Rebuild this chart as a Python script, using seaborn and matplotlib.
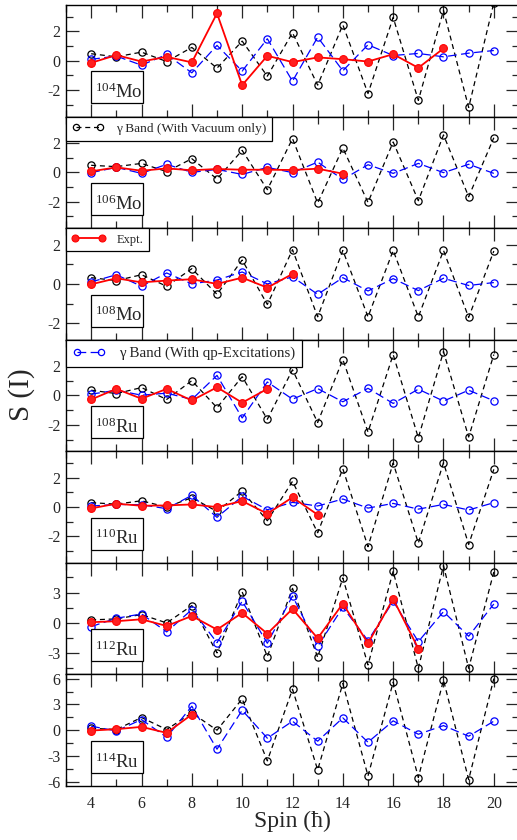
import numpy as np
import pandas as pd
import seaborn as sns
import matplotlib
matplotlib.use("Agg")
import matplotlib.pyplot as plt
from matplotlib.ticker import MultipleLocator
from matplotlib.lines import Line2D
from matplotlib.patches import Rectangle
import matplotlib.transforms as mtransforms

# ---------------- data ----------------
spin = list(range(4, 21))

nuclei = ["104Mo", "106Mo", "108Mo", "108Ru", "110Ru", "112Ru", "114Ru"]

mo104_vac = [0.48, 0.27, 0.59, -0.05, 0.91, -0.50, 1.34, -1.05, 1.91, -1.66, 2.45, -2.23, 2.95, -2.70, 3.43, -3.18, 3.95]
mo104_qp = [0.10, 0.32, -0.30, 0.43, -0.82, 1.05, -0.70, 1.50, -1.39, 1.61, -0.68, 1.09, 0.36, 0.50, 0.27, 0.52, 0.70]
mo104_exp = [-0.14, 0.39, -0.05, 0.27, -0.11, 3.23, -1.66, 0.34, -0.09, 0.23, 0.11, -0.05, 0.45, -0.48, 0.84]

mo106_vac = [0.48, 0.39, 0.61, 0.05, 0.93, -0.45, 1.50, -1.18, 2.30, -2.09, 1.66, -2.05, 2.07, -1.93, 2.55, -1.66, 2.36]
mo106_qp = [-0.02, 0.34, -0.07, 0.55, 0.00, 0.20, -0.14, 0.34, -0.02, 0.70, -0.48, 0.52, -0.07, 0.61, -0.02, 0.55, -0.07]
mo106_exp = [0.07, 0.34, 0.11, 0.27, 0.14, 0.23, 0.18, 0.18, 0.16, 0.25, -0.09]

mo108_vac = [0.32, 0.17, 0.47, -0.12, 0.78, -0.53, 1.22, -1.05, 1.75, -1.68, 1.71, -1.68, 1.71, -1.68, 1.71, -1.71, 1.68]
mo108_qp = [0.10, 0.47, -0.12, 0.56, 0.00, 0.20, 0.61, 0.00, 0.36, -0.53, 0.32, -0.36, 0.27, -0.34, 0.29, -0.08, 0.07]
mo108_exp = [-0.02, 0.29, 0.08, 0.17, 0.24, 0.00, 0.32, -0.19, 0.51]

ru108_vac = [0.36, 0.13, 0.54, -0.27, 1.01, -0.83, 1.28, -1.62, 1.75, -1.84, 2.45, -2.49, 2.79, -2.88, 2.99, -2.83, 2.79]
ru108_qp = [0.09, 0.36, 0.02, 0.16, -0.27, 1.37, -1.53, 0.92, -0.25, 0.47, -0.43, 0.49, -0.54, 0.43, -0.38, 0.36, -0.36]
ru108_exp = [-0.27, 0.45, -0.22, 0.45, -0.34, 0.56, -0.49, 0.45]

ru110_vac = [0.30, 0.20, 0.43, 0.00, 0.64, -0.30, 1.09, -0.93, 1.75, -1.75, 2.61, -2.70, 3.00, -2.45, 3.02, -2.55, 2.57]
ru110_qp = [0.07, 0.18, 0.16, -0.11, 0.80, -0.70, 0.73, -0.18, 0.32, 0.07, 0.55, -0.07, 0.25, -0.14, 0.18, -0.20, 0.30]
ru110_exp = [-0.09, 0.23, 0.09, 0.11, 0.18, 0.00, 0.41, -0.45, 0.66, -0.52]

ru112_vac = [0.30, 0.40, 0.83, 0.00, 1.72, -2.97, 3.07, -3.33, 3.43, -3.40, 4.46, -4.16, 5.12, -4.49, 5.68, -4.49, 5.05]
ru112_qp = [-0.36, 0.46, 0.89, -0.89, 1.32, -1.95, 2.15, -2.01, 2.67, -2.31, 1.55, -1.75, 2.15, -1.85, 1.12, -1.32, 1.88]
ru112_exp = [0.07, 0.17, 0.36, -0.30, 0.69, -0.66, 0.99, -1.06, 1.39, -1.52, 1.91, -2.01, 2.38, -2.54]

ru114_vac = [0.23, 0.08, 1.48, 0.08, 2.02, 0.00, 3.65, -3.57, 4.78, -4.62, 5.44, -5.32, 5.59, -5.51, 5.83, -5.75, 6.02]
ru114_qp = [0.47, -0.08, 1.24, -0.82, 2.80, -2.21, 2.33, -0.93, 1.05, -1.28, 1.44, -1.40, 1.09, -0.47, 0.54, -0.70, 1.05]
ru114_exp = [-0.04, 0.12, 0.39, -0.31, 1.83]

vac_sets = [mo104_vac, mo106_vac, mo108_vac, ru108_vac, ru110_vac, ru112_vac, ru114_vac]
qp_sets = [mo104_qp, mo106_qp, mo108_qp, ru108_qp, ru110_qp, ru112_qp, ru114_qp]
exp_sets = [mo104_exp, mo106_exp, mo108_exp, ru108_exp, ru110_exp, ru112_exp, ru114_exp]

ylims = [(-3.8, 3.8), (-3.8, 3.8), (-2.85, 2.85), (-3.8, 3.8), (-3.8, 3.8), (-5.1, 5.95), (-6.5, 6.5)]
ymajor = [2, 2, 2, 2, 2, 3, 3]
yminor = [1, 1, 1, 1, 1, 1.5, 1.5]

lab_vac = "γ Band (With Vacuum only)"
lab_qp = "γ Band (With qp-Excitations)"
lab_exp = "Expt."

# ---------------- style ----------------
sns.set_style("ticks")
plt.rcParams["font.family"] = ["Liberation Serif", "DejaVu Serif"]
plt.rcParams["mathtext.fontset"] = "custom"
plt.rcParams["mathtext.rm"] = "Liberation Serif"
plt.rcParams["mathtext.it"] = "Liberation Serif"
plt.rcParams["axes.unicode_minus"] = False

BLACK_LS = (0, (4.0, 3.0))
BLUE_LS = (0, (7.0, 3.5))

W, H = 517, 840
fig = plt.figure(figsize=(W / 100, H / 100), dpi=100)

left_px, right_px = 66, 519
top_px, bot_px = 5, 786
ph = (bot_px - top_px) / 7.0

axes = []
for i in range(7):
    yt = top_px + i * ph
    ax = fig.add_axes([left_px / W, 1 - (yt + ph) / H, (right_px - left_px) / W, ph / H])
    axes.append(ax)

    n_exp = len(exp_sets[i])
    sns.lineplot(x=spin, y=vac_sets[i], ax=ax, color="black", linestyle=BLACK_LS,
                 lw=0.9, marker="o", ms=5.2, mfc="none", mec="black", mew=0.9, zorder=3)
    sns.lineplot(x=spin, y=qp_sets[i], ax=ax, color="blue", linestyle=BLUE_LS,
                 lw=0.9, marker="o", ms=5.2, mfc="none", mec="blue", mew=0.9, zorder=4)
    sns.lineplot(x=spin[:n_exp], y=exp_sets[i], ax=ax, color="red", linestyle="-",
                 lw=1.3, marker="o", ms=5.6, mfc="#ff2020", mec="red", mew=0.8, zorder=5)

    ax.set_xlim(3, 21)
    ax.set_ylim(*ylims[i])
    ax.xaxis.set_major_locator(MultipleLocator(2))
    ax.xaxis.set_minor_locator(MultipleLocator(1))
    ax.yaxis.set_major_locator(MultipleLocator(ymajor[i]))
    ax.yaxis.set_minor_locator(MultipleLocator(yminor[i]))
    ax.tick_params(which="both", direction="in", top=True, right=True, width=0.9,
                   labelsize=11.5, pad=4)
    ax.tick_params(which="major", length=9.5)
    ax.tick_params(which="minor", length=5)
    ax.tick_params(axis="x", pad=7)
    for s in ax.spines.values():
        s.set_linewidth(1.0)
        s.set_color("black")
    ax.set_xlabel("")
    ax.set_ylabel("")
    if i < 6:
        ax.tick_params(axis="x", labelbottom=False)
    if ax.get_legend() is not None:
        ax.get_legend().remove()

    # nucleus label box
    tr = mtransforms.blended_transform_factory(ax.transData, ax.transAxes)
    ax.add_patch(Rectangle((4.0, 0.118), 2.05, 0.287, transform=tr, fc="white",
                           ec="black", lw=0.9, zorder=6))
    mass, sym = nuclei[i][:3], nuclei[i][3:]
    ax.text(4.17, 0.165, r"$^{%s}$%s" % (mass, sym), transform=tr, fontsize=13.5,
            va="baseline", ha="left", zorder=7)

# legends
def add_leg(ax, handle, label, fs, hl):
    leg = ax.legend([handle], [label], loc="upper left", bbox_to_anchor=(0, 1),
                    borderaxespad=0, fancybox=False, framealpha=1, edgecolor="black",
                    fontsize=fs, numpoints=2, handlelength=hl, handletextpad=0.9,
                    borderpad=0.45)
    leg.get_frame().set_linewidth(0.9)
    leg.set_zorder(10)

h_vac = Line2D([], [], color="black", linestyle=BLACK_LS, lw=0.9, marker="o", ms=4.5,
               mfc="none", mec="black", mew=0.9)
h_exp = Line2D([], [], color="red", linestyle="-", lw=1.3, marker="o", ms=5,
               mfc="#ff2020", mec="red", mew=0.8)
h_qp = Line2D([], [], color="blue", linestyle=BLUE_LS, lw=0.9, marker="o", ms=4.5,
              mfc="none", mec="blue", mew=0.9)
add_leg(axes[1], h_vac, lab_vac, 9.6, 2.4)
add_leg(axes[2], h_exp, lab_exp, 9.0, 2.7)
add_leg(axes[3], h_qp, lab_qp, 10.8, 2.2)

fig.text(22 / W, 1 - 395 / H, "S (I)", rotation=90, fontsize=21, ha="center", va="center")
fig.text(292 / W, 1 - 821 / H, "Spin (ħ)", fontsize=17, ha="center", va="center")

fig.savefig("out.png", dpi=100)
